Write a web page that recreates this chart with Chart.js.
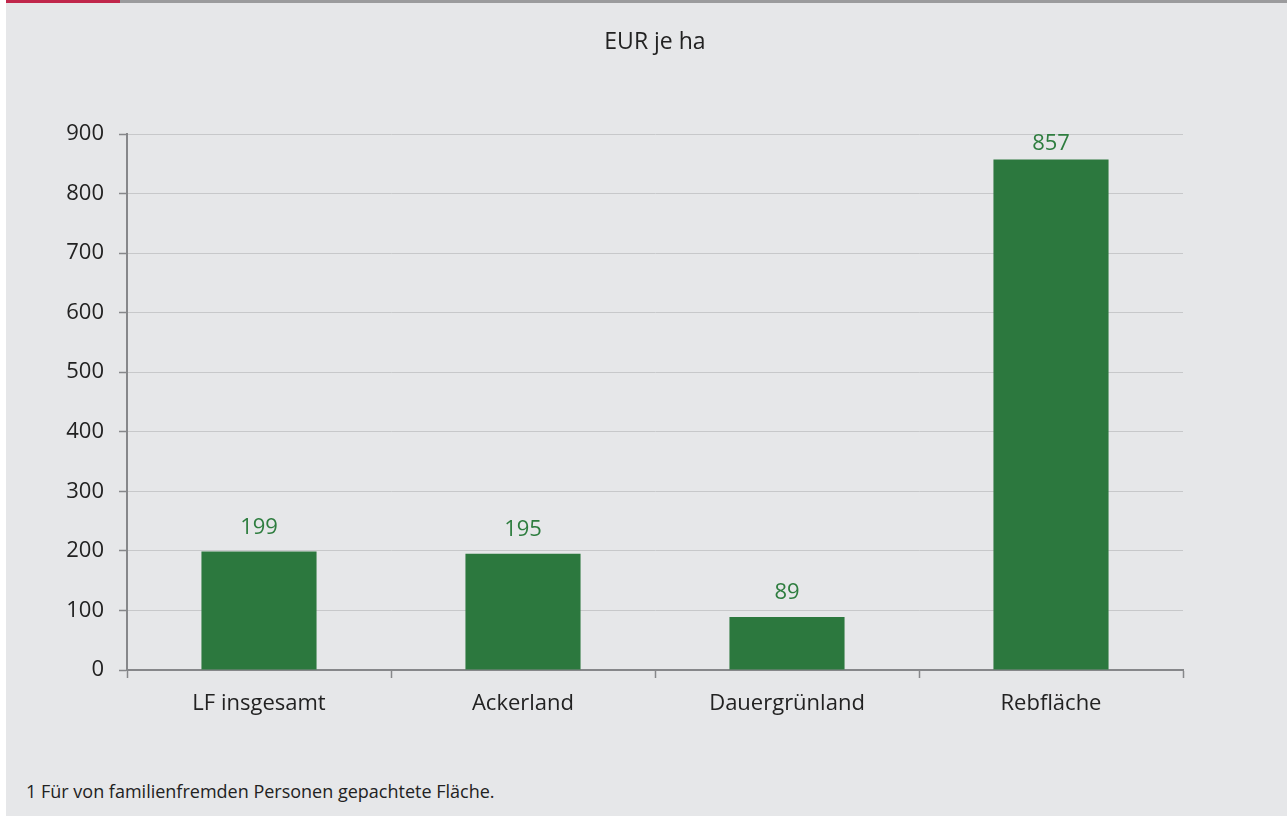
<!DOCTYPE html>
<html lang="de">
<head>
<meta charset="utf-8">
<title>Pachtpreise</title>
<script src="https://cdn.jsdelivr.net/npm/chart.js@4.4.1/dist/chart.umd.min.js"></script>
<style>
  html, body { margin: 0; padding: 0; background: #ffffff; }
  body { width: 1287px; height: 816px; position: relative; overflow: hidden; font-family: "Open Sans", sans-serif; }
  #panel { position: absolute; left: 6px; top: 0; width: 1281px; height: 816px; background: #e6e7e9; }
  #bar-red { position: absolute; left: 0; top: 0; width: 114px; height: 3px; background: #c0264b; }
  #bar-grey { position: absolute; left: 114px; top: 0; right: 0; height: 3px; background: #9b9b9d; }
  #unit { position: absolute; left: 121px; width: 1056px; top: 29px; text-align: center; font-size: 23px; line-height: 23px; color: #222; }
  #note { position: absolute; left: 20px; top: 782px; font-size: 18px; line-height: 18px; color: #222; }
  #wrap { position: absolute; left: 0; top: 0; width: 1281px; height: 760px; }
</style>
</head>
<body>
<div id="panel">
  <div id="bar-red"></div>
  <div id="bar-grey"></div>
  <div id="wrap"><canvas id="pacht"></canvas></div>
  <div id="unit">EUR je ha</div>
  <div id="note">1 Für von familienfremden Personen gepachtete Fläche.</div>
</div>
<script>
const categories = ['LF insgesamt', 'Ackerland', 'Dauergrünland', 'Rebfläche'];
const pachtEurHa = [199, 195, 89, 857];
const yTicks = [0, 100, 200, 300, 400, 500, 600, 700, 800, 900];

const green = '#2c783e';
const axisGrey = '#86878a';

// values above the bars, kept inside the plot area at the top
const valueLabels = {
    id: 'valueLabels',
    afterDatasetsDraw(chart) {
        const ctx = chart.ctx;
        const meta = chart.getDatasetMeta(0);
        ctx.save();
        ctx.font = '22px "Open Sans"';
        ctx.fillStyle = '#2e7d3f';
        ctx.textAlign = 'center';
        ctx.textBaseline = 'middle';
        meta.data.forEach((bar, i) => {
            const y = Math.max(bar.y - 24, chart.chartArea.top + 10);
            ctx.fillText(String(pachtEurHa[i]), bar.x, y);
        });
        ctx.restore();
    }
};

document.addEventListener('DOMContentLoaded', () => {
    const ctx = document.getElementById('pacht');
    new Chart(ctx, {
        type: 'bar',
        data: {
            labels: categories,
            datasets: [{
                data: pachtEurHa,
                backgroundColor: green,
                borderWidth: 0,
                categoryPercentage: 0.436,
                barPercentage: 1
            }]
        },
        options: {
            responsive: true,
            maintainAspectRatio: false,
            animation: false,
            layout: {
                padding: { top: 134, right: 104, bottom: 30, left: 0 }
            },
            plugins: {
                legend: { display: false },
                tooltip: { enabled: false }
            },
            scales: {
                x: {
                    afterFit: (scale) => { scale.height = 60; },
                    grid: {
                        offset: true,
                        drawOnChartArea: false,
                        drawTicks: true,
                        tickLength: 8,
                        tickColor: axisGrey,
                        tickWidth: 1.5
                    },
                    border: { display: true, color: axisGrey, width: 2 },
                    ticks: {
                        padding: 13,
                        color: '#222',
                        font: { family: 'Open Sans', size: 22 }
                    }
                },
                y: {
                    min: 0,
                    max: 900,
                    afterFit: (scale) => { scale.width = 121; },
                    afterBuildTicks: (scale) => { scale.ticks = yTicks.map(v => ({ value: v })); },
                    grid: {
                        color: '#c7c8ca',
                        lineWidth: 1,
                        tickLength: 8,
                        tickColor: axisGrey,
                        tickWidth: 1.5
                    },
                    border: { display: true, color: axisGrey, width: 2 },
                    ticks: {
                        padding: 15,
                        color: '#222',
                        font: { family: 'Open Sans', size: 22 }
                    }
                }
            }
        },
        plugins: [valueLabels]
    });
});
</script>
</body>
</html>
